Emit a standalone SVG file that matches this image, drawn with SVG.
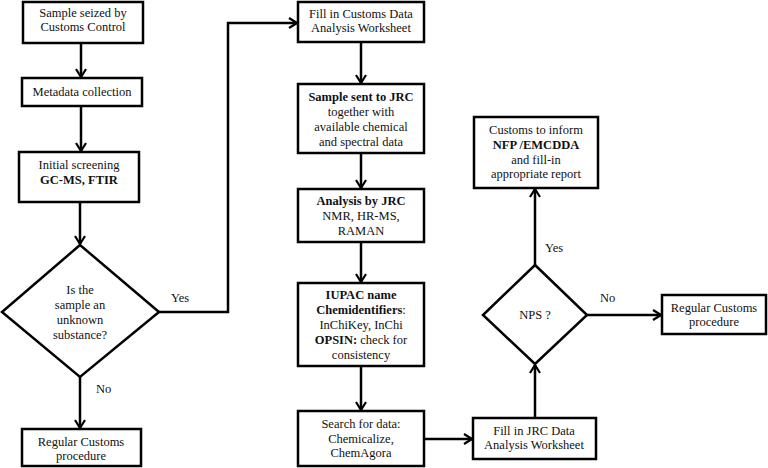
<svg xmlns="http://www.w3.org/2000/svg" width="768" height="468" viewBox="0 0 768 468">
<defs>
<style>
.n{fill:#fff;stroke:#000;stroke-width:2.5}
.c{fill:none;stroke:#000;stroke-width:2.5}
text{font-size:12.5px;fill:#111;text-anchor:middle}
.b{font-weight:bold}
.l{text-anchor:start}
</style>
<marker id="ah" viewBox="0 0 10 12" refX="9" refY="6" markerWidth="10" markerHeight="12" markerUnits="userSpaceOnUse" orient="auto">
<path d="M1,1 L9,6 L1,11" fill="none" stroke="#000" stroke-width="2.2"/>
</marker>
</defs>
<rect width="768" height="468" fill="#fff"/>
<g font-family="'Liberation Serif', 'DejaVu Serif', serif">
<g id="connectors">
<line class="c" x1="81" y1="43" x2="81" y2="77" marker-end="url(#ah)"/>
<line class="c" x1="81" y1="106" x2="81" y2="151" marker-end="url(#ah)"/>
<line class="c" x1="80" y1="202" x2="80" y2="244" marker-end="url(#ah)"/>
<polyline class="c" points="159,312 228,312 228,23 297,23" marker-end="url(#ah)"/>
<line class="c" x1="80" y1="377" x2="80" y2="428" marker-end="url(#ah)"/>
<line class="c" x1="361" y1="42" x2="361" y2="83" marker-end="url(#ah)"/>
<line class="c" x1="361" y1="153" x2="361" y2="188" marker-end="url(#ah)"/>
<line class="c" x1="361" y1="242" x2="361" y2="282" marker-end="url(#ah)"/>
<line class="c" x1="361" y1="366" x2="361" y2="410" marker-end="url(#ah)"/>
<line class="c" x1="424" y1="439" x2="472" y2="439" marker-end="url(#ah)"/>
<line class="c" x1="535" y1="418" x2="535" y2="365" marker-end="url(#ah)"/>
<line class="c" x1="535" y1="265" x2="535" y2="189" marker-end="url(#ah)"/>
<line class="c" x1="587" y1="315" x2="661" y2="315" marker-end="url(#ah)"/>
<text class="l" x="171" y="302">Yes</text>
<text class="l" x="96" y="393">No</text>
<text class="l" x="545" y="252">Yes</text>
<text class="l" x="600" y="302">No</text>
</g>
<g id="seized">
<rect class="n" x="23" y="2" width="120" height="41"/>
<text x="83" y="17">Sample seized by</text>
<text x="83" y="31">Customs Control</text>
</g>
<g id="metadata">
<rect class="n" x="22" y="78" width="120" height="28"/>
<text x="82" y="96">Metadata collection</text>
</g>
<g id="screening">
<rect class="n" x="19" y="152" width="120" height="50"/>
<text x="79" y="169">Initial screening</text>
<text x="79" y="184" class="b">GC-MS, FTIR</text>
</g>
<g id="unknown">
<polygon class="n" points="80,245 159,312 80,377 2,312"/>
<text x="80" y="294">Is the</text>
<text x="80" y="309">sample an</text>
<text x="80" y="324">unknown</text>
<text x="80" y="339">substance?</text>
</g>
<g id="regular1">
<rect class="n" x="22" y="429" width="119" height="37"/>
<text x="81" y="446">Regular Customs</text>
<text x="81" y="460">procedure</text>
</g>
<g id="customsWorksheet">
<rect class="n" x="298" y="2" width="126" height="40"/>
<text x="361" y="18">Fill in Customs Data</text>
<text x="361" y="32">Analysis Worksheet</text>
</g>
<g id="sent">
<rect class="n" x="298" y="84" width="126" height="69"/>
<text x="361" y="101" class="b">Sample sent to JRC</text>
<text x="361" y="116">together with</text>
<text x="361" y="131">available chemical</text>
<text x="361" y="146">and spectral data</text>
</g>
<g id="analysis">
<rect class="n" x="298" y="189" width="126" height="53"/>
<text x="361" y="205" class="b">Analysis by JRC</text>
<text x="361" y="220">NMR, HR-MS,</text>
<text x="361" y="235">RAMAN</text>
</g>
<g id="iupac">
<rect class="n" x="298" y="283" width="126" height="83"/>
<text x="361" y="299" class="b">IUPAC name</text>
<text x="361" y="314"><tspan class="b">Chemidentifiers</tspan>:</text>
<text x="361" y="329">InChiKey, InChi</text>
<text x="361" y="344"><tspan class="b">OPSIN:</tspan> check for</text>
<text x="361" y="359">consistency</text>
</g>
<g id="search">
<rect class="n" x="298" y="411" width="126" height="55"/>
<text x="361" y="428">Search for data:</text>
<text x="361" y="443">Chemicalize,</text>
<text x="361" y="457">ChemAgora</text>
</g>
<g id="jrcWorksheet">
<rect class="n" x="473" y="418" width="123" height="41"/>
<text x="534" y="435">Fill in JRC Data</text>
<text x="534" y="449">Analysis Worksheet</text>
</g>
<g id="nps">
<polygon class="n" points="535,265 587,315 535,364 483,315"/>
<text x="535" y="319">NPS ?</text>
</g>
<g id="inform">
<rect class="n" x="474" y="117" width="124" height="71"/>
<text x="536" y="134">Customs to inform</text>
<text x="536" y="149" class="b">NFP /EMCDDA</text>
<text x="536" y="164">and fill-in</text>
<text x="536" y="178">appropriate report</text>
</g>
<g id="regular2">
<rect class="n" x="662" y="295" width="104" height="39"/>
<text x="714" y="312">Regular Customs</text>
<text x="714" y="326">procedure</text>
</g>
</g>
</svg>
